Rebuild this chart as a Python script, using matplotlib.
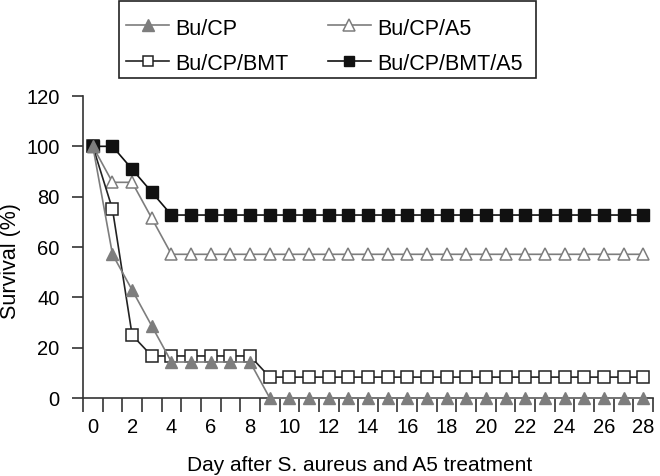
import matplotlib
matplotlib.use('Agg')
import matplotlib.pyplot as plt
from matplotlib.ticker import FixedLocator
from matplotlib.patches import Rectangle

plt.rcParams['font.family'] = ['Liberation Sans', 'DejaVu Sans']

# Survival data, one point per day (0..28)
days = list(range(29))
bu_cp = [100, 57.1, 42.9, 28.6] + [14.3] * 5 + [0] * 20
bu_cp_a5 = [100, 85.7, 85.7, 71.4] + [57.1] * 25
bu_cp_bmt = [100, 75, 25] + [16.7] * 6 + [8.3] * 20
bu_cp_bmt_a5 = [100, 100, 90.9, 81.8] + [72.7] * 25

W, H = 660, 476
fig = plt.figure(figsize=(6.6, 4.76), dpi=100)
ax = fig.add_axes([83 / W, 1 - 398 / H, 570 / W, 302 / H])

grey = '#7d7d7d'
l1, = ax.plot(days, bu_cp, color=grey, lw=1.2, marker='^', ms=8.5,
              mfc=grey, mec=grey, label='Bu/CP', clip_on=False, zorder=3)
l2, = ax.plot(days, bu_cp_a5, color=grey, lw=1.2, marker='^', ms=8.5,
              mfc='white', mec=grey, mew=1.1, label='Bu/CP/A5', clip_on=False)
l3, = ax.plot(days, bu_cp_bmt, color='#222222', lw=1.2, marker='s', ms=8,
              mfc='white', mec='#222222', mew=1.1, label='Bu/CP/BMT', clip_on=False)
l4, = ax.plot(days, bu_cp_bmt_a5, color='#111111', lw=1.2, marker='s', ms=8,
              mfc='#111111', mec='#111111', label='Bu/CP/BMT/A5', clip_on=False)

# category style x axis: tick marks between days, labels every 2 days
ax.set_xlim(-0.5, 28.5)
ax.set_xticks(range(0, 29, 2))
ax.xaxis.set_minor_locator(FixedLocator([d - 0.5 for d in range(30)]))
ax.tick_params(axis='x', which='major', length=0, labelsize=14.5, pad=14.5)
ax.tick_params(axis='x', which='minor', length=10, width=1.2, direction='out', color='#333333')

ax.set_ylim(0, 120)
ax.set_yticks(range(0, 121, 20))
ax.tick_params(axis='y', length=8, width=1.2, direction='out', labelsize=14.5,
               pad=9, color='#333333')

for s in ['top', 'right']:
    ax.spines[s].set_visible(False)
for s in ['left', 'bottom']:
    ax.spines[s].set_linewidth(1.2)
    ax.spines[s].set_color('#333333')

ax.set_xlabel('Day after S. aureus and A5 treatment', fontsize=15, va='bottom')
ax.xaxis.set_label_coords(0.486, -0.256)
ax.set_ylabel('Survival (%)', fontsize=15.5)
ax.yaxis.set_label_coords(-0.108, 0.454)

leg = fig.legend(handles=[l1, l3, l2, l4], loc='upper left', ncol=2,
                 bbox_to_anchor=(119 / W, 1 - 9 / H), fontsize=15.5, frameon=False,
                 handlelength=2.0, handleheight=1.25, columnspacing=1.8,
                 borderpad=0.33, labelspacing=0.56, handletextpad=0.3,
                 borderaxespad=0)
for h in leg.legend_handles:
    h.set_markersize(8 if h.get_marker() == '^' else 6.5)

# legend frame
fig.patches.append(Rectangle((119 / W, 1 - 78 / H), 417 / W, 77 / H,
                             transform=fig.transFigure, fill=False,
                             edgecolor='#222222', lw=1.2))

fig.savefig('out.png', dpi=100)
